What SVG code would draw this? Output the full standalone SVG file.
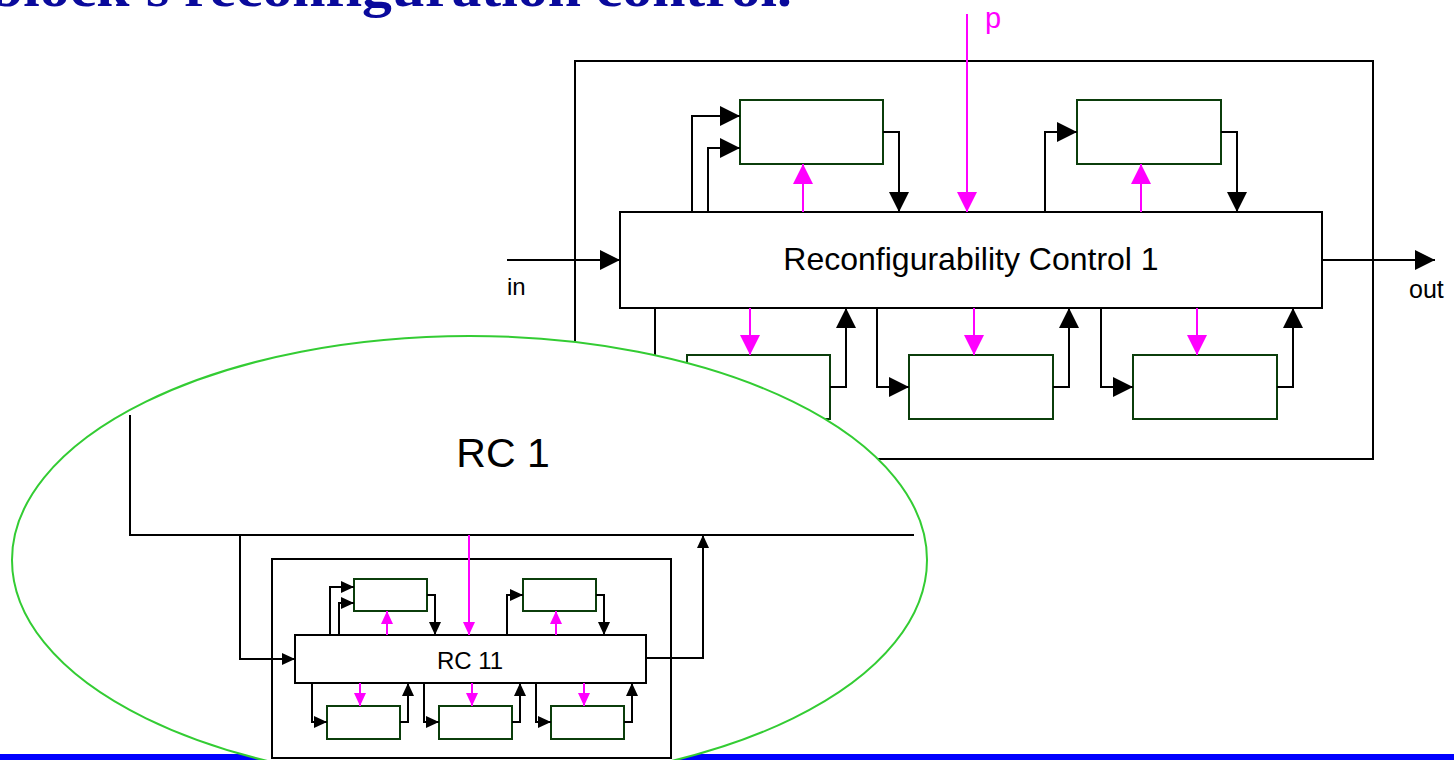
<svg xmlns="http://www.w3.org/2000/svg" width="1454" height="760" viewBox="0 0 1454 760">
  <style>
    .frame { fill: #ffffff; stroke: #000000; stroke-width: 2; }
    .unit { fill: #ffffff; stroke: #0b3d0b; stroke-width: 2; }
    .wire { fill: none; stroke: #000000; stroke-width: 2; }
    .ctl { fill: none; stroke: #ff00ff; stroke-width: 2; }
    .lbl { font-family: "Liberation Sans", Arial, sans-serif; fill: #000000; }
    .title { font-family: "Liberation Serif", "Times New Roman", serif; fill: #0a0a9c; }
  </style>
  <defs>
    <marker id="ah" markerUnits="userSpaceOnUse" markerWidth="20" markerHeight="20" viewBox="0 0 20 20" refX="20" refY="10" orient="auto">
      <path d="M0,0 L20,10 L0,20 Z" fill="#000000"/>
    </marker>
    <marker id="ahm" markerUnits="userSpaceOnUse" markerWidth="20" markerHeight="20" viewBox="0 0 20 20" refX="20" refY="10" orient="auto">
      <path d="M0,0 L20,10 L0,20 Z" fill="#ff00ff"/>
    </marker>
    <marker id="as" markerUnits="userSpaceOnUse" markerWidth="13" markerHeight="12" viewBox="0 0 13 12" refX="13" refY="6" orient="auto">
      <path d="M0,0 L13,6 L0,12 Z" fill="#000000"/>
    </marker>
    <marker id="asm" markerUnits="userSpaceOnUse" markerWidth="13" markerHeight="12" viewBox="0 0 13 12" refX="13" refY="6" orient="auto">
      <path d="M0,0 L13,6 L0,12 Z" fill="#ff00ff"/>
    </marker>
  </defs>

  <rect width="1454" height="760" fill="#ffffff"/>

  <!-- heading, mostly above the top edge -->
  <text class="title" x="-10" y="6" font-size="54" font-weight="bold" textLength="802" lengthAdjust="spacingAndGlyphs">block's reconfiguration control.</text>

  <!-- level 1: block with its reconfigurability control -->
  <g id="block1">
    <rect class="frame" x="575" y="61" width="798" height="398"/>
  </g>
  <g id="rc1">
    <rect class="frame" x="620" y="212" width="702" height="96"/>
    <text class="lbl" x="971" y="270" font-size="32" text-anchor="middle">Reconfigurability Control 1</text>
  </g>
  <g id="sub1"><rect class="unit" x="740" y="100" width="143" height="64"/></g>
  <g id="sub2"><rect class="unit" x="1077" y="100" width="144" height="64"/></g>
  <g id="sub3"><rect class="unit" x="687" y="355" width="143" height="64"/></g>
  <g id="sub4"><rect class="unit" x="909" y="355" width="144" height="64"/></g>
  <g id="sub5"><rect class="unit" x="1133" y="355" width="144" height="64"/></g>

  <g id="connectors-level1">
    <path class="wire" d="M507,260 H620" marker-end="url(#ah)"/>
    <path class="wire" d="M1322,260 H1435" marker-end="url(#ah)"/>
    <path class="ctl" d="M967,14 V212" marker-end="url(#ahm)"/>
    <path class="wire" d="M692,212 V116 H740" marker-end="url(#ah)"/>
    <path class="wire" d="M708,212 V148 H740" marker-end="url(#ah)"/>
    <path class="ctl" d="M803,212 V164" marker-end="url(#ahm)"/>
    <path class="wire" d="M883,132 H899 V212" marker-end="url(#ah)"/>
    <path class="wire" d="M1045,212 V132 H1077" marker-end="url(#ah)"/>
    <path class="ctl" d="M1141,212 V164" marker-end="url(#ahm)"/>
    <path class="wire" d="M1221,132 H1237 V212" marker-end="url(#ah)"/>
    <path class="wire" d="M655,308 V387 H687" marker-end="url(#ah)"/>
    <path class="ctl" d="M750,308 V355" marker-end="url(#ahm)"/>
    <path class="wire" d="M830,387 H846 V308" marker-end="url(#ah)"/>
    <path class="wire" d="M877,308 V387 H909" marker-end="url(#ah)"/>
    <path class="ctl" d="M974,308 V355" marker-end="url(#ahm)"/>
    <path class="wire" d="M1053,387 H1069 V308" marker-end="url(#ah)"/>
    <path class="wire" d="M1101,308 V387 H1133" marker-end="url(#ah)"/>
    <path class="ctl" d="M1197,308 V355" marker-end="url(#ahm)"/>
    <path class="wire" d="M1277,387 H1293 V308" marker-end="url(#ah)"/>
    <text class="lbl" x="507" y="295" font-size="24">in</text>
    <text class="lbl" x="1409" y="298" font-size="25">out</text>
    <text x="985" y="28" font-size="29" fill="#ff00ff" font-family="Liberation Sans, Arial, sans-serif">p</text>
  </g>

  <!-- bottom rule of the page -->
  <rect x="0" y="754" width="1454" height="6" fill="#0000ff"/>

  <!-- magnified view of RC 1 -->
  <g id="zoom">
    <ellipse cx="469.5" cy="560" rx="457.5" ry="224" fill="#ffffff" stroke="#33cc33" stroke-width="2"/>
  </g>
  <g id="rc1-detail">
    <path class="wire" d="M130,415 V535 H914"/>
    <text class="lbl" x="503" y="467" font-size="41" text-anchor="middle">RC 1</text>
  </g>
  <g id="block11">
    <rect class="frame" x="272" y="559" width="399" height="199"/>
  </g>
  <g id="rc11">
    <rect class="frame" x="295" y="635" width="351" height="48"/>
    <text class="lbl" x="470" y="669" font-size="24" text-anchor="middle">RC 11</text>
  </g>
  <g id="sub11"><rect class="unit" x="354" y="579" width="73" height="32"/></g>
  <g id="sub12"><rect class="unit" x="523" y="579" width="73" height="32"/></g>
  <g id="sub13"><rect class="unit" x="327" y="706" width="73" height="33"/></g>
  <g id="sub14"><rect class="unit" x="439" y="706" width="73" height="33"/></g>
  <g id="sub15"><rect class="unit" x="551" y="706" width="73" height="33"/></g>

  <g id="connectors-level11">
    <path class="wire" d="M240,535 V659 H295" marker-end="url(#as)"/>
    <path class="ctl" d="M469,535 V635" marker-end="url(#asm)"/>
    <path class="wire" d="M646,658 H703 V535" marker-end="url(#as)"/>
    <path class="wire" d="M330,635 V587 H354" marker-end="url(#as)"/>
    <path class="wire" d="M339,635 V603 H354" marker-end="url(#as)"/>
    <path class="ctl" d="M387,635 V611" marker-end="url(#asm)"/>
    <path class="wire" d="M427,595 H435 V635" marker-end="url(#as)"/>
    <path class="wire" d="M507,635 V595 H523" marker-end="url(#as)"/>
    <path class="ctl" d="M556,635 V611" marker-end="url(#asm)"/>
    <path class="wire" d="M596,595 H604 V635" marker-end="url(#as)"/>
    <path class="wire" d="M312,683 V722 H327" marker-end="url(#as)"/>
    <path class="ctl" d="M360,683 V706" marker-end="url(#asm)"/>
    <path class="wire" d="M400,722 H408 V683" marker-end="url(#as)"/>
    <path class="wire" d="M424,683 V722 H439" marker-end="url(#as)"/>
    <path class="ctl" d="M472,683 V706" marker-end="url(#asm)"/>
    <path class="wire" d="M512,722 H520 V683" marker-end="url(#as)"/>
    <path class="wire" d="M536,683 V722 H551" marker-end="url(#as)"/>
    <path class="ctl" d="M584,683 V706" marker-end="url(#asm)"/>
    <path class="wire" d="M624,722 H632 V683" marker-end="url(#as)"/>
  </g>
</svg>
